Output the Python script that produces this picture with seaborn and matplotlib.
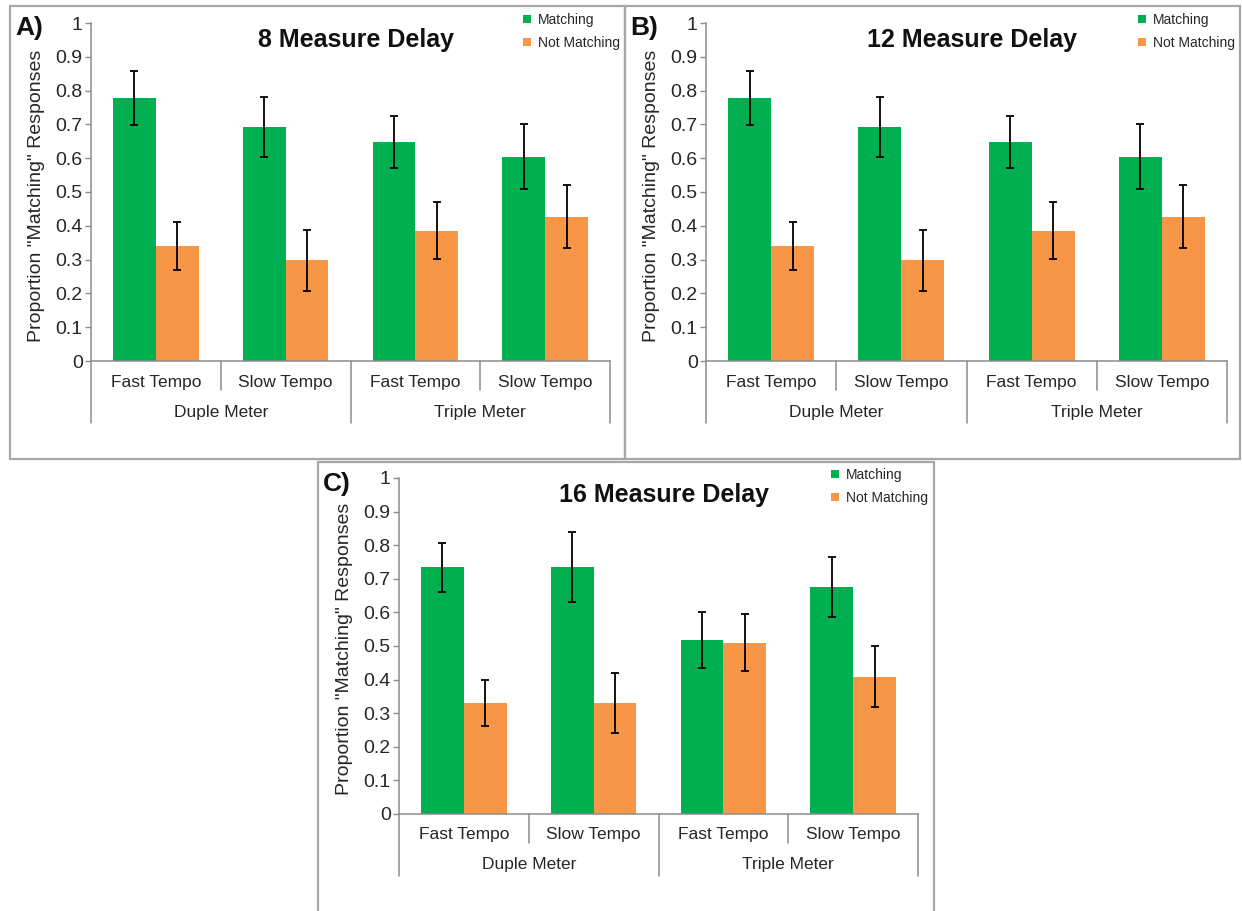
import numpy as np
import pandas as pd
import matplotlib
matplotlib.use("Agg")
import matplotlib.pyplot as plt
import matplotlib.transforms as mtransforms
import seaborn as sns
from matplotlib.patches import Patch, Rectangle

# ---------------- data ----------------
conditions = ["Duple Fast", "Duple Slow", "Triple Fast", "Triple Slow"]
tempo_labels = ["Fast Tempo", "Slow Tempo", "Fast Tempo", "Slow Tempo"]
meter_labels = ["Duple Meter", "Triple Meter"]
response_types = ["Matching", "Not Matching"]
panel_titles = ["8 Measure Delay", "12 Measure Delay", "16 Measure Delay"]
panel_letters = ["A)", "B)", "C)"]
y_ticks = [0, 0.1, 0.2, 0.3, 0.4, 0.5, 0.6, 0.7, 0.8, 0.9, 1.0]

match_8 = [0.778, 0.692, 0.648, 0.605]
match_8_err = [0.080, 0.088, 0.078, 0.095]
nomatch_8 = [0.340, 0.298, 0.385, 0.427]
nomatch_8_err = [0.070, 0.090, 0.084, 0.093]

match_12 = [0.778, 0.692, 0.648, 0.605]
match_12_err = [0.080, 0.088, 0.078, 0.095]
nomatch_12 = [0.340, 0.298, 0.385, 0.427]
nomatch_12_err = [0.070, 0.090, 0.084, 0.093]

match_16 = [0.735, 0.735, 0.518, 0.675]
match_16_err = [0.073, 0.105, 0.083, 0.090]
nomatch_16 = [0.331, 0.331, 0.510, 0.408]
nomatch_16_err = [0.068, 0.089, 0.084, 0.091]

GREEN = "#00B050"
ORANGE = "#F79646"
AXIS_GRAY = "#8C8C8C"
FRAME_GRAY = "#A6A6A6"

sns.set_style("white")
plt.rcParams["font.family"] = ["Liberation Sans", "DejaVu Sans"]

W, H = 1242, 911
fig = plt.figure(figsize=(W / 100, H / 100), dpi=100)


def fx(px):
    return px / W


def fy(py):
    return 1 - py / H


# panel frames (pixels: left, top, right, bottom)
frames = [(10, 6, 625, 459), (625, 6, 1240, 459), (318, 462, 934, 930)]
for (l, t, r, b) in frames:
    fig.patches.append(Rectangle((fx(l), fy(b)), fx(r - l), (b - t) / H,
                                 transform=fig.transFigure, fill=False,
                                 edgecolor=FRAME_GRAY, linewidth=1.6, zorder=0))

# axes boxes (pixels: left, top, right, bottom)
axes_px = [(91, 23, 610, 361), (706, 23, 1227, 361), (399, 478, 918, 814)]
panel_data = [
    (match_8, match_8_err, nomatch_8, nomatch_8_err),
    (match_12, match_12_err, nomatch_12, nomatch_12_err),
    (match_16, match_16_err, nomatch_16, nomatch_16_err),
]

for i, ((l, t, r, b), (m, me, n, ne)) in enumerate(zip(axes_px, panel_data)):
    ax = fig.add_axes([fx(l), fy(b), fx(r - l), (b - t) / H])
    ax_h = b - t
    df = pd.DataFrame({
        "condition": conditions * 2,
        "response": [response_types[0]] * 4 + [response_types[1]] * 4,
        "value": list(m) + list(n),
    })
    sns.barplot(data=df, x="condition", y="value", hue="response",
                order=conditions, hue_order=response_types,
                palette=[GREEN, ORANGE], width=0.66, errorbar=None,
                saturation=1, legend=False, linewidth=0, ax=ax)
    for cont, vals, errs in zip(ax.containers, [m, n], [me, ne]):
        xs = [bar.get_x() + bar.get_width() / 2 for bar in cont]
        ax.errorbar(xs, vals, yerr=errs, fmt="none", ecolor="black",
                    elinewidth=1.3, capsize=3.2, capthick=1.3, zorder=5)

    ax.set_xlim(-0.5, 3.5)
    ax.set_ylim(0, 1)
    ax.set_yticks(y_ticks)
    ax.set_yticklabels([f"{v:g}" for v in y_ticks], fontsize=14, color="#262626")
    ax.tick_params(axis="y", direction="out", length=4, width=1,
                   color=AXIS_GRAY, pad=2, left=True)
    ax.tick_params(axis="x", length=0, labelbottom=False)
    ax.set_xlabel("")
    ax.set_ylabel('Proportion "Matching" Responses', fontsize=14, color="#262626")
    ax.yaxis.set_label_coords(-46 / (r - l), 0.49)
    for s in ["top", "right"]:
        ax.spines[s].set_visible(False)
    for s in ["left", "bottom"]:
        ax.spines[s].set_color(AXIS_GRAY)
        ax.spines[s].set_linewidth(1.1)

    # multi-level category axis
    xt = ax.get_xaxis_transform()
    row1 = mtransforms.offset_copy(xt, fig=fig, y=-21, units="dots")
    row2 = mtransforms.offset_copy(xt, fig=fig, y=-51, units="dots")
    for k, lab in enumerate(tempo_labels):
        ax.text(k, 0, lab, transform=row1, ha="center", va="center",
                fontsize=12.5, color="#262626")
    for k, lab in enumerate(meter_labels):
        ax.text(2 * k + 0.5, 0, lab, transform=row2, ha="center", va="center",
                fontsize=12.5, color="#262626")
    short = 29 / ax_h
    full = 62 / ax_h
    for xb in [0.5, 2.5]:
        ax.plot([xb, xb], [0, -short], transform=xt, color=AXIS_GRAY,
                lw=1.1, clip_on=False)
    for xb in [-0.5, 1.5, 3.5]:
        ax.plot([xb, xb], [0, -full], transform=xt, color=AXIS_GRAY,
                lw=1.1, clip_on=False)

    # title and panel letter
    ax.text(0.51, 1 - 17 / ax_h, panel_titles[i], transform=ax.transAxes,
            ha="center", va="center", fontsize=18, fontweight="bold", color="#111111")
    fl, ft = frames[i][0], frames[i][1]
    fig.text(fx(fl + 5), fy(ft + 22), panel_letters[i], ha="left", va="center",
             fontsize=19, fontweight="bold", color="#111111")

    # legend
    handles = [Patch(facecolor=GREEN, edgecolor="none"),
               Patch(facecolor=ORANGE, edgecolor="none")]
    ax.legend(handles, response_types, loc="upper left",
              bbox_to_anchor=(fx(l + 432), fy(t - 10)),
              bbox_transform=fig.transFigure, frameon=False, fontsize=10,
              handlelength=0.55, handleheight=0.55, handletextpad=0.5,
              labelspacing=0.65, borderpad=0, borderaxespad=0,
              labelcolor="#262626")

fig.savefig("out.png", dpi=100)
